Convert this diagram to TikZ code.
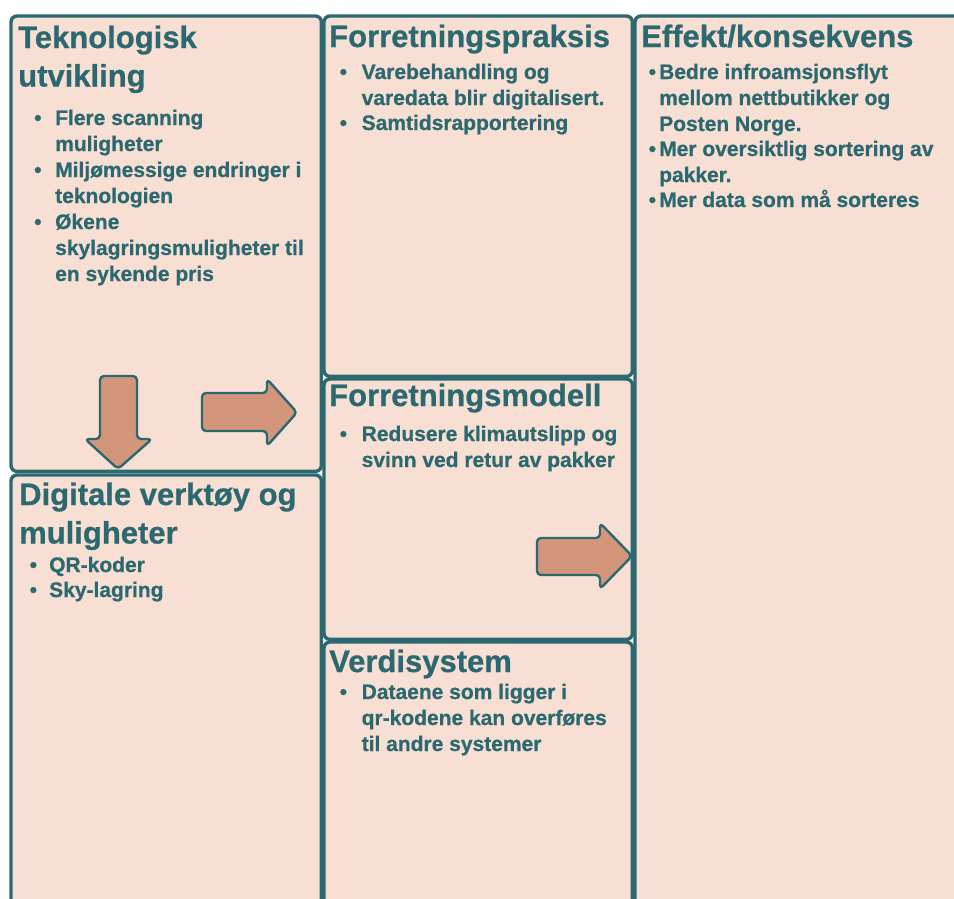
\documentclass[tikz,border=0pt]{standalone}
\usepackage{fontspec}
\setmainfont{Liberation Sans}[BoldFeatures={FakeBold=0.7}]
\definecolor{ink}{RGB}{44,104,112}
\definecolor{panelfill}{RGB}{247,223,211}
\definecolor{arrowfill}{RGB}{212,150,123}
% bullet followed by a top-aligned block of lines
\newcommand{\bulletitem}[2]{\makebox[#1][l]{\textbullet}\begin{tabular}[t]{@{}l@{}}#2\end{tabular}}
\newcommand{\titlelines}[1]{\begin{tabular}[t]{@{}l@{}}#1\end{tabular}}
\begin{document}
\begin{tikzpicture}[x=1pt,y=-1pt,
  panel/.style={fill=panelfill, draw=none, inner sep=0, anchor=north west},
  border/.style={draw=ink, line width=3.4pt, rounded corners=6pt},
  bigarrow/.style={fill=arrowfill, draw=ink, line width=2.4pt, rounded corners=4pt, line join=round},
  heading/.style={anchor=base west, inner sep=0, text=ink, font=\fontsize{31}{38.5}\selectfont\bfseries},
  entry/.style={anchor=base west, inner sep=0, text=ink, font=\fontsize{21}{26}\selectfont\bfseries}]
\useasboundingbox (0,0) rectangle (954,898);
\fill[white] (0,0) rectangle (954,898);
\clip (0,0) rectangle (954,898);

% panels
\node[panel, minimum width=310pt, minimum height=455pt] (tek) at (11,16) {};
\node[panel, minimum width=310pt, minimum height=445pt] (dig) at (11,475) {};
\node[panel, minimum width=308pt, minimum height=360pt] (prak) at (324,16) {};
\node[panel, minimum width=308pt, minimum height=260pt] (mod) at (324,379) {};
\node[panel, minimum width=308pt, minimum height=278pt] (verdi) at (324,642) {};
\node[panel, minimum width=345pt, minimum height=904pt] (eff) at (635,16) {};

% block arrows
\draw[bigarrow] (100,376) -- (137,376) -- (137,439) -- (152,439) -- (118,469) -- (85,439) -- (100,439) -- cycle;
\draw[bigarrow] (202,393) -- (267,393) -- (267,379) -- (297,412.5) -- (267,446) -- (267,431) -- (202,431) -- cycle;
\draw[bigarrow] (537,538) -- (600,538) -- (600,523) -- (632,556) -- (600,589) -- (600,575) -- (537,575) -- cycle;

% panel borders
\foreach \p in {tek,dig,prak,mod,verdi,eff}
  \draw[border] (\p.north west) rectangle (\p.south east);

% Teknologisk utvikling
\node[heading] (tekT) at (18,48) {\titlelines{Teknologisk\\utvikling}};
\node[entry] (tek1) at (34,125) {\bulletitem{21pt}{Flere scanning\\muligheter}};
\node[entry] (tek2) at (34,177) {\bulletitem{21pt}{Miljømessige endringer i\\teknologien}};
\node[entry] (tek3) at (34,229) {\bulletitem{21pt}{Økene\\skylagringsmuligheter til\\en sykende pris}};

% Digitale verktøy og muligheter
\node[heading] (digT) at (19,505) {\titlelines{Digitale verktøy og\\muligheter}};
\node[entry] (dig1) at (29.5,572) {\bulletitem{19.5pt}{QR-koder}};
\node[entry] (dig2) at (29.5,597) {\bulletitem{19.5pt}{Sky-lagring}};

% Forretningspraksis
\node[heading] (prakT) at (329,47) {Forretningspraksis};
\node[entry] (prak1) at (339.5,79) {\bulletitem{22pt}{Varebehandling og\\varedata blir digitalisert.}};
\node[entry] (prak2) at (339.5,130) {\bulletitem{22pt}{Samtidsrapportering}};

% Forretningsmodell
\node[heading] (modT) at (329,406) {Forretningsmodell};
\node[entry] (mod1) at (339.5,441) {\bulletitem{22pt}{Redusere klimautslipp og\\svinn ved retur av pakker}};

% Verdisystem
\node[heading] (verdiT) at (329,672) {Verdisystem};
\node[entry] (verdi1) at (339.5,699) {\bulletitem{22pt}{Dataene som ligger i\\qr-kodene kan overføres\\til andre systemer}};

% Effekt/konsekvens
\node[heading] (effT) at (641,47) {Effekt/konsekvens};
\node[entry] (eff1) at (648.5,79) {\bulletitem{10.5pt}{Bedre infroamsjonsflyt\\mellom nettbutikker og\\Posten Norge.}};
\node[entry] (eff2) at (648.5,156) {\bulletitem{10.5pt}{Mer oversiktlig sortering av\\pakker.}};
\node[entry] (eff3) at (648.5,207) {\bulletitem{10.5pt}{Mer data som må sorteres}};
\end{tikzpicture}
\end{document}
